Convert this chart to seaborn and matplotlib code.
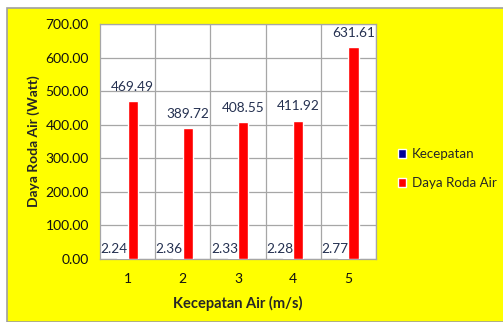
import matplotlib
matplotlib.use("Agg")
import matplotlib.pyplot as plt
from matplotlib.patches import Rectangle
import seaborn as sns
import pandas as pd

# Data
categories = ["1", "2", "3", "4", "5"]
kecepatan = [2.24, 2.36, 2.33, 2.28, 2.77]
daya_roda_air = [469.49, 389.72, 408.55, 411.92, 631.61]
series_names = ["Kecepatan", "Daya Roda Air"]
yticks = [0, 100, 200, 300, 400, 500, 600, 700]

df = pd.DataFrame({
    "x": categories * 2,
    "value": kecepatan + daya_roda_air,
    "series": [series_names[0]] * len(categories) + [series_names[1]] * len(categories),
})

sns.set_style("white")
plt.rcParams["font.family"] = ["Lato", "DejaVu Sans"]

W, H = 503, 322
fig = plt.figure(figsize=(W / 100, H / 100), dpi=100)
fig.patch.set_facecolor("white")

# Yellow chart area with grey frame
fig.patches.append(Rectangle((7 / W, 0), 1, 1 - 8 / H, transform=fig.transFigure,
                             facecolor="#FFFF00", edgecolor="#A0A0A0", linewidth=1.2,
                             zorder=-5))

ax = fig.add_axes([100 / W, 1 - 259 / H, 276 / W, 235 / H])
ax.set_facecolor("white")

palette = {"Kecepatan": "#000099", "Daya Roda Air": "#FF0000"}
sns.barplot(data=df, x="x", y="value", hue="series", palette=palette,
            width=0.37, saturation=1, ax=ax, legend=True, zorder=3)

label_color = "#243050"
fs = 9.8
# Value labels: speed labels sit just left of their bar, power labels centred
small_cont, big_cont = ax.containers[0], ax.containers[1]
for bar, val in zip(small_cont, kecepatan):
    ax.annotate(f"{val:.2f}", xy=(bar.get_x() + bar.get_width() / 2, bar.get_height()),
                xytext=(-6, 2.5), textcoords="offset points", ha="center", va="bottom",
                fontsize=fs, color=label_color)
ax.bar_label(big_cont, fmt="%.2f", padding=6, fontsize=fs, color=label_color)

ax.set_ylim(0, 700)
ax.set_yticks(yticks)
ax.set_yticklabels([f"{v:.2f}" for v in yticks])
ax.set_xlim(-0.5, len(categories) - 0.5)

# Grid: horizontal at ticks, vertical at category boundaries
for v in yticks:
    ax.axhline(v, color="#A6A6A6", linewidth=0.9, zorder=1)
for b in [i + 0.5 for i in range(len(categories))]:
    ax.axvline(b, color="#A6A6A6", linewidth=0.9, zorder=1)

for s in ax.spines.values():
    s.set_color("#A6A6A6")
    s.set_linewidth(0.9)

ax.tick_params(axis="y", length=3, color="#A6A6A6", labelsize=10, pad=5, labelcolor="#111111")
ax.tick_params(axis="x", length=0, labelsize=10, pad=10, labelcolor="#111111")

ax.set_xlabel("Kecepatan Air (m/s)", fontsize=10.5, fontweight="bold", labelpad=8)
ax.set_ylabel("Daya Roda Air (Watt)", fontsize=10, fontweight="bold", labelpad=4)

leg = ax.legend(loc="center left", bbox_to_anchor=(1.035, 0.385), frameon=False,
                fontsize=9.6, handlelength=0.65, handleheight=0.65, handletextpad=0.4,
                labelspacing=1.25)

fig.savefig("out.png", dpi=100)
